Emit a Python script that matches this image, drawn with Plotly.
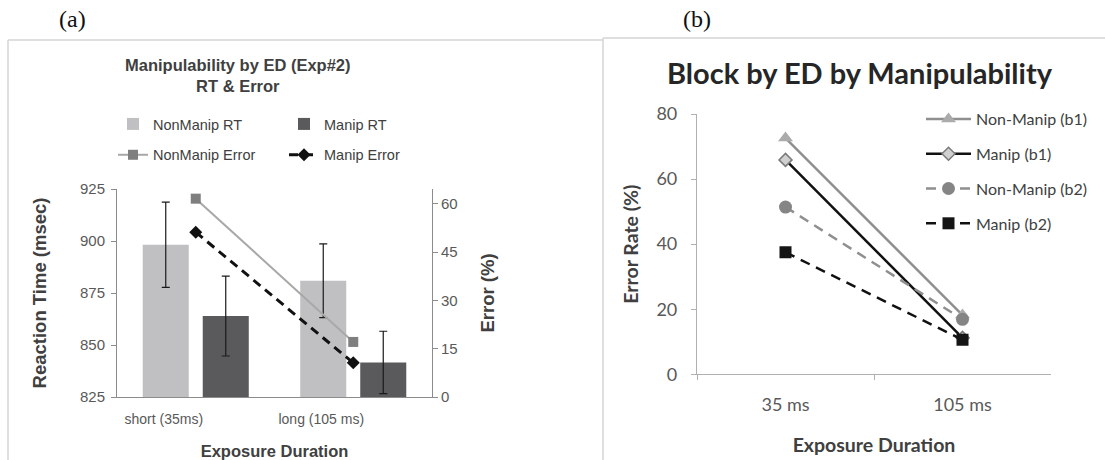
import plotly.graph_objects as go

W, H = 1105, 460


def px(x):
    return x / W


def py(y):
    return 1 - y / H


# ---------------- Panel (a) data ----------------
durations_a = ["short (35ms)", "long (105 ms)"]
nonmanip_rt = [898.2, 880.9]
nonmanip_rt_err = [20.5, 17.7]
manip_rt = [863.9, 841.6]
manip_rt_err = [19.2, 15.0]
nonmanip_error = [61.6, 17.1]
manip_error = [51.2, 10.6]
rt_ticks = [825, 850, 875, 900, 925]
err_ticks = [0, 15, 30, 45, 60]

# ---------------- Panel (b) data ----------------
durations_b = ["35 ms", "105 ms"]
nonmanip_b1 = [72.6, 18.2]
manip_b1 = [65.9, 11.2]
nonmanip_b2 = [51.4, 16.9]
manip_b2 = [37.5, 10.6]
rate_ticks = [0, 20, 40, 60, 80]

FA = "Liberation Sans, Arial, sans-serif"
FB = "Lato, Calibri, sans-serif"
TICK = "#595959"
TXT = "#404040"

fig = go.Figure()

# ---- panel (a) traces ----
fig.add_trace(go.Bar(
    x=durations_a, y=nonmanip_rt, name="NonManip RT",
    marker=dict(color="#c0c0c2", line=dict(width=0)),
    error_y=dict(type="data", array=nonmanip_rt_err, color="#1a1a1a", thickness=1.2, width=4),
    xaxis="x", yaxis="y", legend="legend", legendgroup="a1"))
fig.add_trace(go.Bar(
    x=durations_a, y=manip_rt, name="Manip RT",
    marker=dict(color="#5a5a5c", line=dict(width=0)),
    error_y=dict(type="data", array=manip_rt_err, color="#1a1a1a", thickness=1.2, width=4),
    xaxis="x", yaxis="y", legend="legend2", legendgroup="a2"))
fig.add_trace(go.Scatter(
    x=durations_a, y=nonmanip_error, name="NonManip Error", mode="lines+markers",
    line=dict(color="#a8a8a8", width=2),
    marker=dict(symbol="square", size=10, color="#7f7f7f"),
    xaxis="x", yaxis="y2", legend="legend", legendgroup="a3"))
fig.add_trace(go.Scatter(
    x=durations_a, y=manip_error, name="Manip Error", mode="lines+markers",
    line=dict(color="#111111", width=3, dash="9px,6px"),
    marker=dict(symbol="diamond", size=10, color="#111111"),
    xaxis="x", yaxis="y2", legend="legend2", legendgroup="a4"))

# ---- panel (b) traces ----
fig.add_trace(go.Scatter(
    x=durations_b, y=nonmanip_b1, name="Non-Manip (b1)", mode="lines+markers",
    line=dict(color="#8f8f8f", width=2.5),
    marker=dict(symbol="triangle-up", size=13, color="#ababab"),
    xaxis="x2", yaxis="y3", legend="legend3", legendgroup="g1"))
fig.add_trace(go.Scatter(
    x=durations_b, y=manip_b1, name="Manip (b1)", mode="lines+markers",
    line=dict(color="#111111", width=2.5),
    marker=dict(symbol="diamond", size=10, color="#d0d0d0", line=dict(color="#7a7a7a", width=1.5)),
    xaxis="x2", yaxis="y3", legend="legend3", legendgroup="g2"))
fig.add_trace(go.Scatter(
    x=durations_b, y=nonmanip_b2, name="Non-Manip (b2)", mode="lines+markers",
    line=dict(color="#8f8f8f", width=2.5, dash="10px,7px"),
    marker=dict(symbol="circle", size=13, color="#858585"),
    xaxis="x2", yaxis="y3", legend="legend3", legendgroup="g3"))
fig.add_trace(go.Scatter(
    x=durations_b, y=manip_b2, name="Manip (b2)", mode="lines+markers",
    line=dict(color="#111111", width=2.5, dash="10px,7px"),
    marker=dict(symbol="square", size=12, color="#151515"),
    xaxis="x2", yaxis="y3", legend="legend3", legendgroup="g4"))

axis_line = "#8c8c8c"

fig.update_layout(
    width=W, height=H, autosize=False,
    margin=dict(l=0, r=0, t=0, b=0, pad=0, autoexpand=False),
    paper_bgcolor="white", plot_bgcolor="white",
    barmode="group", bargap=0.238, bargroupgap=0.233,
    showlegend=True,
    xaxis=dict(
        domain=[px(117), px(432)], anchor="y", type="category", range=[-0.5, 1.5],
        showline=True, linecolor=axis_line, linewidth=1, showgrid=False,
        ticks="", ticklabelshift=-32, ticklabelstandoff=9,
        tickfont=dict(family=FA, size=14, color=TICK),
        title=dict(text="<b>Exposure Duration</b>", font=dict(family=FA, size=16.5, color=TXT), standoff=23),
    ),
    yaxis=dict(
        domain=[py(397), py(189)], anchor="x", range=[825, 925],
        tickvals=rt_ticks, showgrid=False, zeroline=False,
        showline=True, linecolor=axis_line, linewidth=1,
        ticks="outside", ticklen=5, tickcolor=axis_line, ticklabelstandoff=3,
        tickfont=dict(family=FA, size=15, color=TICK),
        title=dict(text="<b>Reaction Time (msec)</b>", font=dict(family=FA, size=18.5, color=TXT), standoff=28),
    ),
    yaxis2=dict(
        overlaying="y", anchor="x", side="right", range=[0, 64.6],
        tickvals=err_ticks, showgrid=False, zeroline=False,
        showline=True, linecolor=axis_line, linewidth=1,
        ticks="outside", ticklen=5, tickcolor=axis_line,
        tickfont=dict(family=FA, size=15, color=TICK),
        title=dict(text="<b>Error (%)</b>", font=dict(family=FA, size=18.5, color=TXT), standoff=24),
    ),
    xaxis2=dict(
        domain=[px(697), px(1051)], anchor="y3", type="category", range=[-0.5, 1.5],
        showline=True, linecolor="#b0b0b0", linewidth=1.2, showgrid=False,
        ticks="outside", tickson="boundaries", ticklen=5, tickcolor="#b0b0b0",
        ticklabelstandoff=14,
        tickfont=dict(family=FB, size=18, color=TICK),
        title=dict(text="<b>Exposure Duration</b>", font=dict(family=FB, size=19.5, color=TXT), standoff=24),
    ),
    yaxis3=dict(
        domain=[py(374.3), py(114)], anchor="x2", range=[0, 80],
        tickvals=rate_ticks, showgrid=False, zeroline=False,
        showline=True, linecolor="#b0b0b0", linewidth=1.2,
        ticks="outside", ticklen=5, tickcolor="#b0b0b0", ticklabelstandoff=10,
        tickfont=dict(family=FB, size=18, color=TICK),
        title=dict(text="<b>Error Rate (%)</b>", font=dict(family=FB, size=19.5, color=TXT), standoff=12),
    ),
    legend=dict(
        x=px(113), y=py(108), xanchor="left", yanchor="top", orientation="v",
        font=dict(family=FA, size=14.5, color=TXT), bgcolor="rgba(0,0,0,0)",
        itemwidth=30, tracegroupgap=9,
    ),
    legend2=dict(
        x=px(284), y=py(108), xanchor="left", yanchor="top", orientation="v",
        font=dict(family=FA, size=14.5, color=TXT), bgcolor="rgba(0,0,0,0)",
        itemwidth=30, tracegroupgap=9,
    ),
    legend3=dict(
        x=px(921), y=py(102), xanchor="left", yanchor="top", orientation="v",
        font=dict(family=FB, size=16, color=TXT), bgcolor="rgba(0,0,0,0)",
        itemwidth=45, tracegroupgap=11,
    ),
)

# Titles and panel labels
fig.add_annotation(
    x=px(238), y=py(76), xref="paper", yref="paper", showarrow=False,
    text="<b>Manipulability by ED (Exp#2)</b><br><b>RT &amp; Error</b>",
    font=dict(family=FA, size=16.5, color=TXT), xanchor="center", yanchor="middle", align="center")
fig.add_annotation(
    x=px(860), y=py(72), xref="paper", yref="paper", showarrow=False,
    text="<b>Block by ED by Manipulability</b>",
    font=dict(family=FB, size=29, color="#262626"), xanchor="center", yanchor="middle")
fig.add_annotation(
    x=px(72), y=py(19), xref="paper", yref="paper", showarrow=False,
    text="(a)", font=dict(family="Liberation Serif, Times New Roman, serif", size=24, color="#111111"),
    xanchor="center", yanchor="middle")
fig.add_annotation(
    x=px(697), y=py(19), xref="paper", yref="paper", showarrow=False,
    text="(b)", font=dict(family="Liberation Serif, Times New Roman, serif", size=24, color="#111111"),
    xanchor="center", yanchor="middle")

# Panel frames
frame = dict(color="#d4d4d4", width=1.5)
fig.add_shape(type="line", xref="paper", yref="paper", x0=px(8), x1=px(8), y0=py(40), y1=0, line=frame)
fig.add_shape(type="line", xref="paper", yref="paper", x0=px(8), x1=px(603), y0=py(40), y1=py(40), line=frame)
fig.add_shape(type="line", xref="paper", yref="paper", x0=px(603), x1=px(603), y0=py(38), y1=0, line=frame)
fig.add_shape(type="line", xref="paper", yref="paper", x0=px(603), x1=1, y0=py(38), y1=py(38), line=frame)

fig.write_html(
    "out.html",
    config={"displayModeBar": False},
    post_script="document.body.style.margin='0px';document.body.style.overflow='hidden';",
)
